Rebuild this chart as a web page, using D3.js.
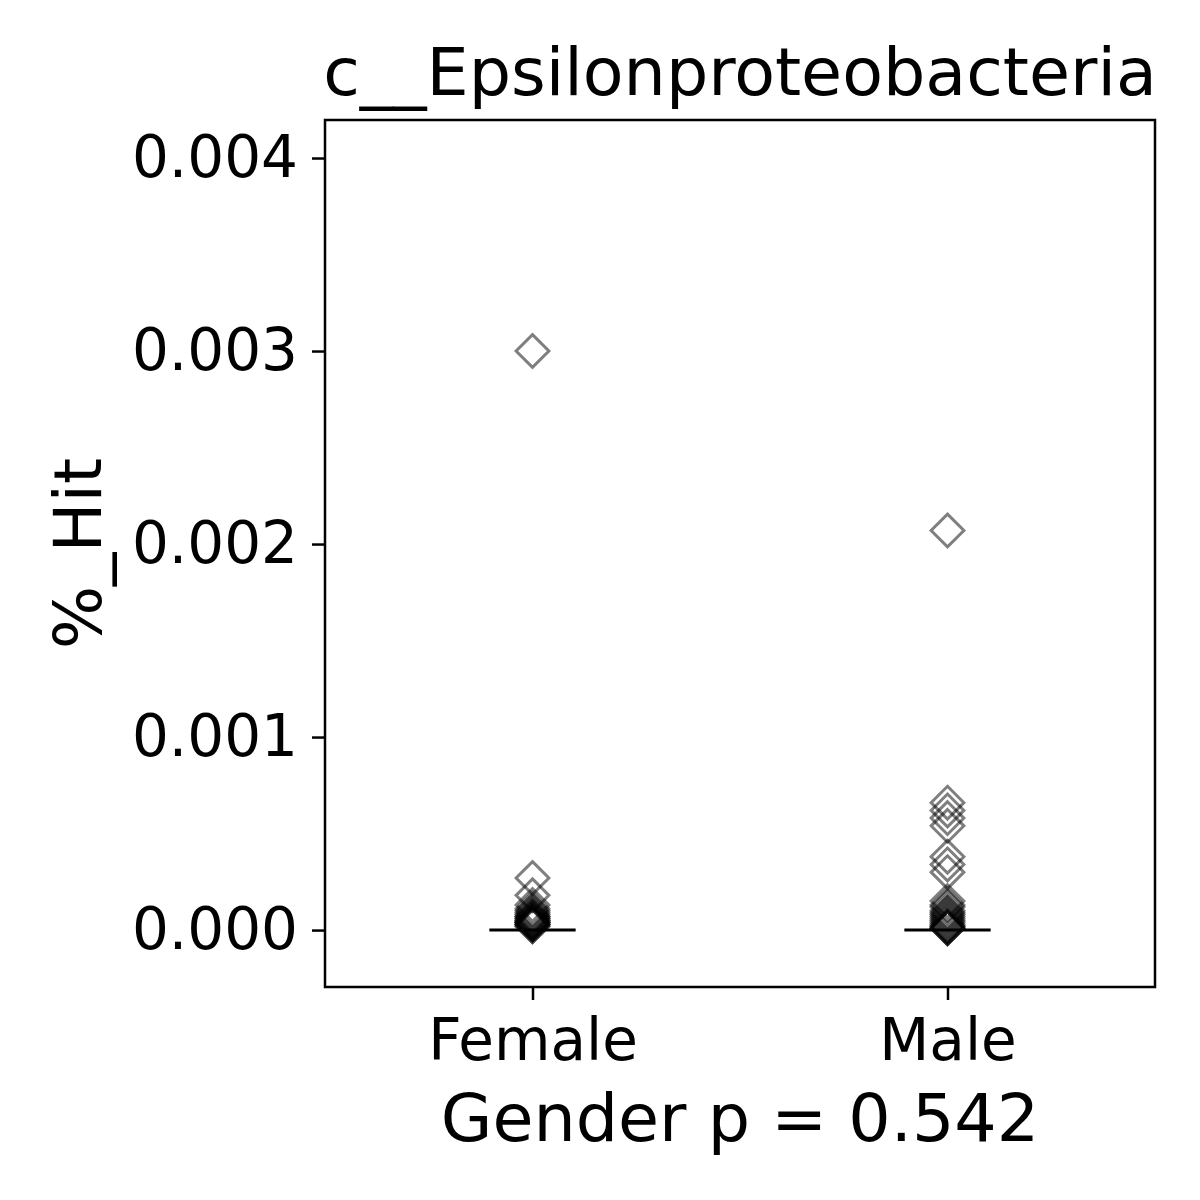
<!DOCTYPE html>
<html>
<head>
<meta charset="utf-8">
<script src="https://cdn.jsdelivr.net/npm/d3@7"></script>
<style>
  body { margin: 0; background: #fff; }
  text { font-family: "DejaVu Sans", sans-serif; fill: #000; }
</style>
</head>
<body>
<svg id="chart" width="1200" height="1200"></svg>
<script>
// groups on the x axis
var groups = ["Female", "Male"];

// %_Hit values
var femaleHits = [0.00300, 0.00027, 0.00018, 0.00013, 0.00011, 0.00010, 0.00009,
  0.00008, 0.00007, 0.00007, 0.00006, 0.00006, 0.00005, 0.00005, 0.00004,
  0.00004, 0.00004, 0.00003, 0.00003, 0.00003, 0.00002, 0.00002];
var maleHits = [0.00207, 0.00066, 0.00062, 0.00058, 0.00054, 0.00038, 0.00034,
  0.00030, 0.00015, 0.00013, 0.00012, 0.00010, 0.00009, 0.00008, 0.00007,
  0.00006, 0.00005, 0.00004, 0.00003, 0.00002, 0.00002, 0.00001, 0.00001, 0.00001];

// median bar per group
var medians = [0.0, 0.0];

var yTicks = [0.000, 0.001, 0.002, 0.003, 0.004];

var svg = d3.select("#chart");
var margin = {top: 120, right: 45, bottom: 213, left: 325};
var width = 1200 - margin.left - margin.right;
var height = 1200 - margin.top - margin.bottom;

var x = d3.scaleLinear().domain([-0.5, 1.5]).range([0, width]);
var y = d3.scaleLinear().domain([-0.000295, 0.004197]).range([height, 0]);

var g = svg.append("g")
  .attr("transform", "translate(" + margin.left + "," + margin.top + ")");

// points
var diamond = d3.symbol().type(d3.symbolDiamond2).size(2 * 18.5 * 18.5);
var series = [femaleHits, maleHits];
series.forEach(function(vals, i) {
  g.selectAll(".pt" + i)
    .data(vals)
    .enter()
    .append("path")
    .attr("d", diamond)
    .attr("transform", function(d) { return "translate(" + x(i) + "," + y(d) + ")"; })
    .attr("fill", "none")
    .attr("stroke", "rgba(0,0,0,0.5)")
    .attr("stroke-width", 3);
});

// median lines
g.selectAll(".median")
  .data(medians)
  .enter()
  .append("line")
  .attr("x1", function(d, i) { return x(i - 0.104); })
  .attr("x2", function(d, i) { return x(i + 0.104); })
  .attr("y1", function(d) { return y(d); })
  .attr("y2", function(d) { return y(d); })
  .attr("stroke", "#000")
  .attr("stroke-width", 3);

// axes
var yAxis = d3.axisLeft(y).tickValues(yTicks).tickFormat(d3.format(".3f"))
  .tickSize(13).tickPadding(14);
var gy = g.append("g").call(yAxis);
var xAxis = d3.axisBottom(x).tickValues([0, 1])
  .tickFormat(function(d) { return groups[d]; })
  .tickSize(13).tickPadding(19);
var gx = g.append("g").attr("transform", "translate(0," + height + ")").call(xAxis);

[gy, gx].forEach(function(ax) {
  ax.select(".domain").remove();
  ax.selectAll(".tick line").attr("stroke", "#000").attr("stroke-width", 2.5);
  ax.selectAll(".tick text").style("font-size", "58px").attr("fill", "#000");
});

// frame
g.append("rect")
  .attr("width", width)
  .attr("height", height)
  .attr("fill", "none")
  .attr("stroke", "#000")
  .attr("stroke-width", 2.5);

// title and labels
svg.append("text")
  .attr("x", margin.left + width / 2)
  .attr("y", 95)
  .attr("text-anchor", "middle")
  .style("font-size", "66.7px")
  .text("c__Epsilonproteobacteria");

svg.append("text")
  .attr("x", margin.left + width / 2)
  .attr("y", 1141)
  .attr("text-anchor", "middle")
  .style("font-size", "66.7px")
  .text("Gender p = 0.542");

svg.append("text")
  .attr("transform", "translate(101," + (margin.top + height / 2) + ") rotate(-90)")
  .attr("text-anchor", "middle")
  .style("font-size", "66.7px")
  .text("%_Hit");
</script>
</body>
</html>
